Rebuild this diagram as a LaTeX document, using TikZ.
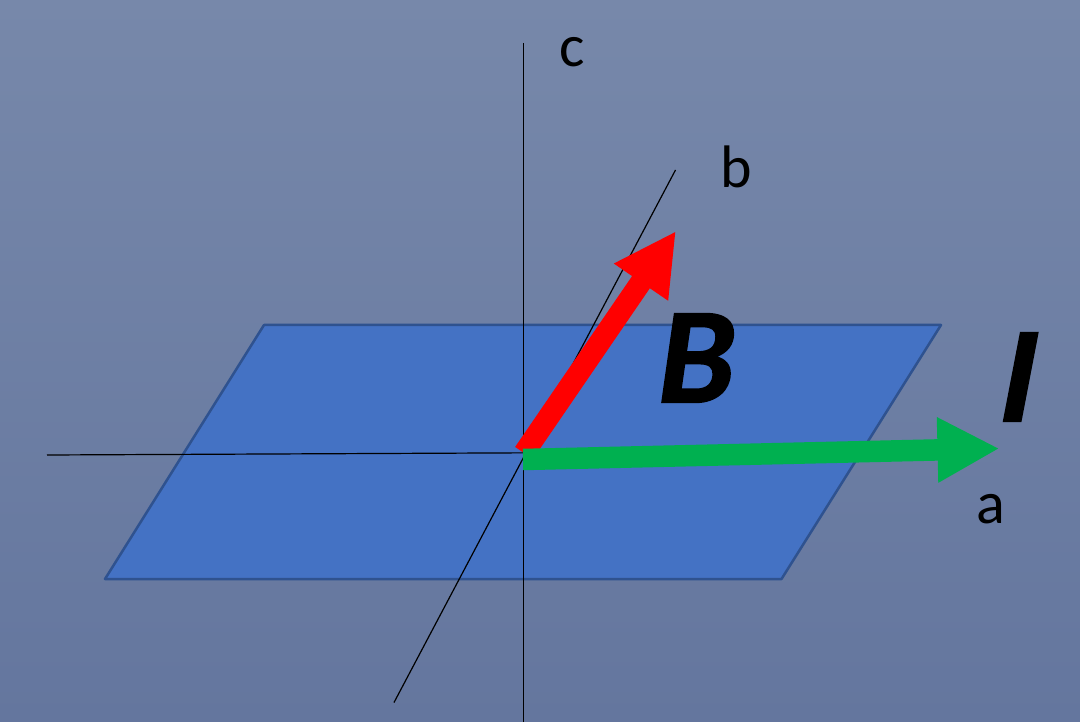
\documentclass[tikz,border=0pt]{standalone}
\usepackage{fontspec}
\setmainfont{Carlito}
\newfontfamily\vecfont[BoldItalicFeatures={FakeBold=1.2}]{Carlito}
\usetikzlibrary{arrows.meta}
\definecolor{bgtop}{HTML}{7788AA}
\definecolor{bgbot}{HTML}{64769E}
\definecolor{planefill}{HTML}{4472C4}
\definecolor{planeedge}{HTML}{2F528F}
\definecolor{igreen}{HTML}{00B050}
\tikzset{
  axis/.style={draw=black,line width=1.2pt},
  plane/.style={fill=planefill,draw=planeedge,line width=2.5pt,line join=round},
  bigarrow/.style={line width=#1,-{Triangle[length=62pt,width=61pt]}},
  axislabel/.style={font=\fontsize{60}{60}\selectfont,text=black,inner sep=0pt},
  veclabel/.style={font=\vecfont\fontsize{137}{137}\selectfont\bfseries\itshape,text=black,inner sep=0pt}
}
\begin{document}
\begin{tikzpicture}[x=1pt,y=-1pt]
\useasboundingbox (0,0) rectangle (1080,722);
\shade[top color=bgtop,bottom color=bgbot] (0,0) rectangle (1080,722);
\draw[plane] (264,325) -- (941,325) -- (781.5,579) -- (105,579) -- cycle;
\coordinate (cTop) at (523.3,43);
\coordinate (cBot) at (523.3,722);
\coordinate (aL) at (47,455);
\coordinate (aR) at (600,452.5);
\coordinate (bL) at (394,702.5);
\coordinate (bT) at (675.5,170);
\coordinate (redS) at (524,453);
\coordinate (redE) at (676,231);
\coordinate (greenS) at (523,459.5);
\coordinate (greenE) at (999.5,448.5);
\draw[axis] (cTop) -- (cBot);
\draw[axis] (aL) -- (aR);
\draw[axis] (bL) -- (bT);
\draw[bigarrow=21.5pt,color=red] (redS) -- (redE);
\draw[bigarrow=21.5pt,color=igreen] (greenS) -- (greenE);
\node[axislabel] (lc) at (572,52) {c};
\node[axislabel] (lb) at (736,167) {b};
\node[axislabel] (la) at (991,509) {a};
\node[veclabel,xslant=0.02] (lB) at (697,358) {B};
\node[veclabel,xslant=0.07] (lI) at (1019,377) {I};
\end{tikzpicture}
\end{document}
